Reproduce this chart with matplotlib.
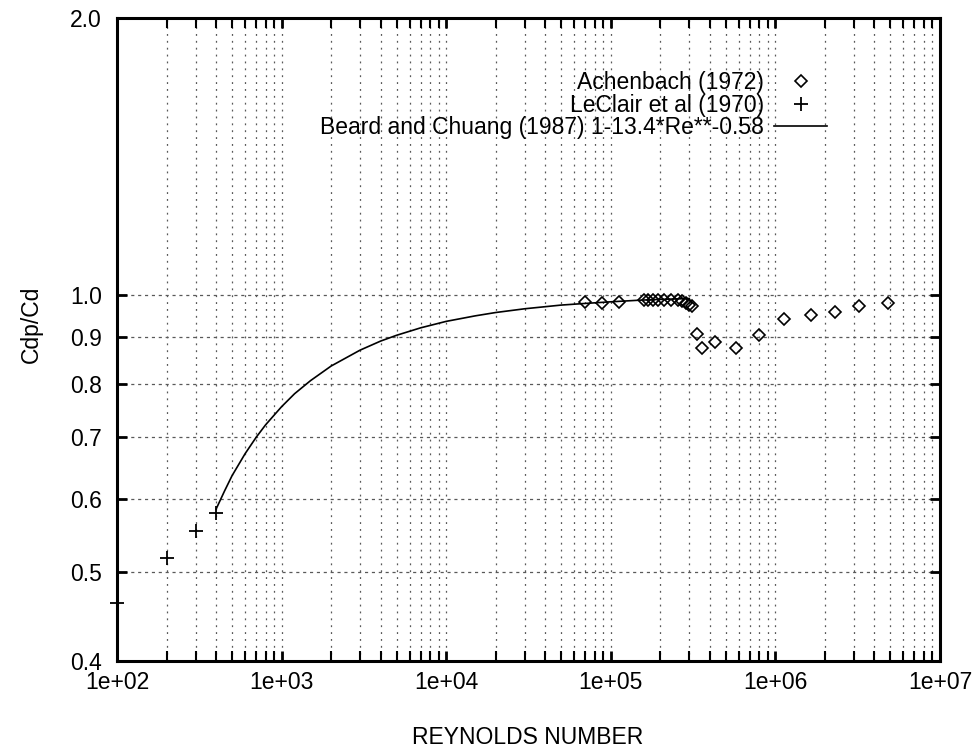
import matplotlib
matplotlib.use("Agg")
import matplotlib.pyplot as plt
from matplotlib.ticker import FixedLocator, NullLocator, LogLocator, FuncFormatter

plt.rcParams['font.family'] = ['Liberation Sans', 'DejaVu Sans']

# Achenbach (1972) - diamonds
ach_re = [7.0e4, 8.9e4, 1.12e5, 1.60e5, 1.69e5, 1.81e5, 1.94e5, 2.11e5, 2.32e5,
          2.55e5, 2.70e5, 2.85e5, 2.99e5, 3.13e5, 3.32e5, 3.57e5, 4.29e5, 5.74e5,
          7.94e5, 1.13e6, 1.64e6, 2.31e6, 3.22e6, 4.85e6]
ach_cd = [0.983, 0.981, 0.983, 0.988, 0.988, 0.988, 0.988, 0.988, 0.988,
          0.988, 0.985, 0.981, 0.976, 0.972, 0.908, 0.876, 0.888, 0.876,
          0.905, 0.941, 0.952, 0.959, 0.972, 0.979]

# LeClair et al (1970) - plus signs
lec_re = [100, 200, 300, 400]
lec_cd = [0.463, 0.518, 0.554, 0.580]

# Beard and Chuang (1987) curve
bc_re = [400, 450, 500, 600, 700, 800, 1000, 1200, 1500, 2000, 3000, 4000, 5000,
         7000, 1e4, 1.5e4, 2e4, 3e4, 5e4, 7e4, 1e5, 1.5e5, 2e5, 3e5]
bc_cd = [0.585, 0.612, 0.636, 0.672, 0.700, 0.7225, 0.756, 0.781, 0.807, 0.837,
         0.871, 0.891, 0.904, 0.921, 0.936, 0.949, 0.957, 0.966, 0.975, 0.979,
         0.983, 0.987, 0.989, 0.991]

yticks = [0.4, 0.5, 0.6, 0.7, 0.8, 0.9, 1.0, 2.0]
xticks = [1e2, 1e3, 1e4, 1e5, 1e6, 1e7]

fig = plt.figure(figsize=(9.78, 7.52), dpi=100)
ax = fig.add_axes([0.1196, 0.121, 0.8415, 0.855])

ax.set_xscale('log')
ax.set_yscale('log')
ax.set_xlim(1e2, 1e7)
ax.set_ylim(0.4, 2.0)

ax.plot(ach_re, ach_cd, linestyle='none', marker='D', ms=6, mfc='none', mec='black',
        mew=1.2, label='Achenbach (1972)', clip_on=False, zorder=3)
ax.plot(lec_re, lec_cd, linestyle='none', marker='+', ms=10, mec='black', mew=1.3,
        label='LeClair et al (1970)', clip_on=False, zorder=3)
ax.plot(bc_re, bc_cd, color='black', lw=1.2,
        label='Beard and Chuang (1987) 1-13.4*Re**-0.58', zorder=3)

ax.xaxis.set_major_locator(FixedLocator(xticks))
ax.xaxis.set_minor_locator(LogLocator(base=10, subs=range(2, 10)))
ax.xaxis.set_major_formatter(FuncFormatter(lambda v, p: '%.0e' % v))
ax.yaxis.set_major_locator(FixedLocator(yticks))
ax.yaxis.set_minor_locator(NullLocator())
ax.yaxis.set_major_formatter(FuncFormatter(lambda v, p: '%.1f' % v))

ax.tick_params(which='both', direction='in', top=True, right=True, labelsize=16.5)
ax.tick_params(which='major', length=7, width=2, pad=7)
ax.tick_params(which='minor', length=7, width=1.5)
ax.tick_params(axis='y', pad=11)
for s in ax.spines.values():
    s.set_linewidth(2.2)

ax.grid(True, which='both', axis='x', color='0.35', lw=0.9, linestyle=(0, (1.5, 4)))
ax.grid(True, which='major', axis='y', color='0.35', lw=0.9, linestyle=(0, (2.5, 3)))

ax.set_xlabel('REYNOLDS NUMBER', fontsize=16.5)
ax.set_ylabel('Cdp/Cd', fontsize=16.5)
ax.xaxis.set_label_coords(0.499, -0.101)
ax.yaxis.set_label_coords(-0.09, 0.523)

leg = ax.legend(loc='upper right', bbox_to_anchor=(0.863, 0.917), frameon=False,
                markerfirst=False, fontsize=16.5, handlelength=2.3, handletextpad=0.45,
                labelspacing=-0.02, borderpad=0, borderaxespad=0)

fig.savefig('out.png', dpi=100)
